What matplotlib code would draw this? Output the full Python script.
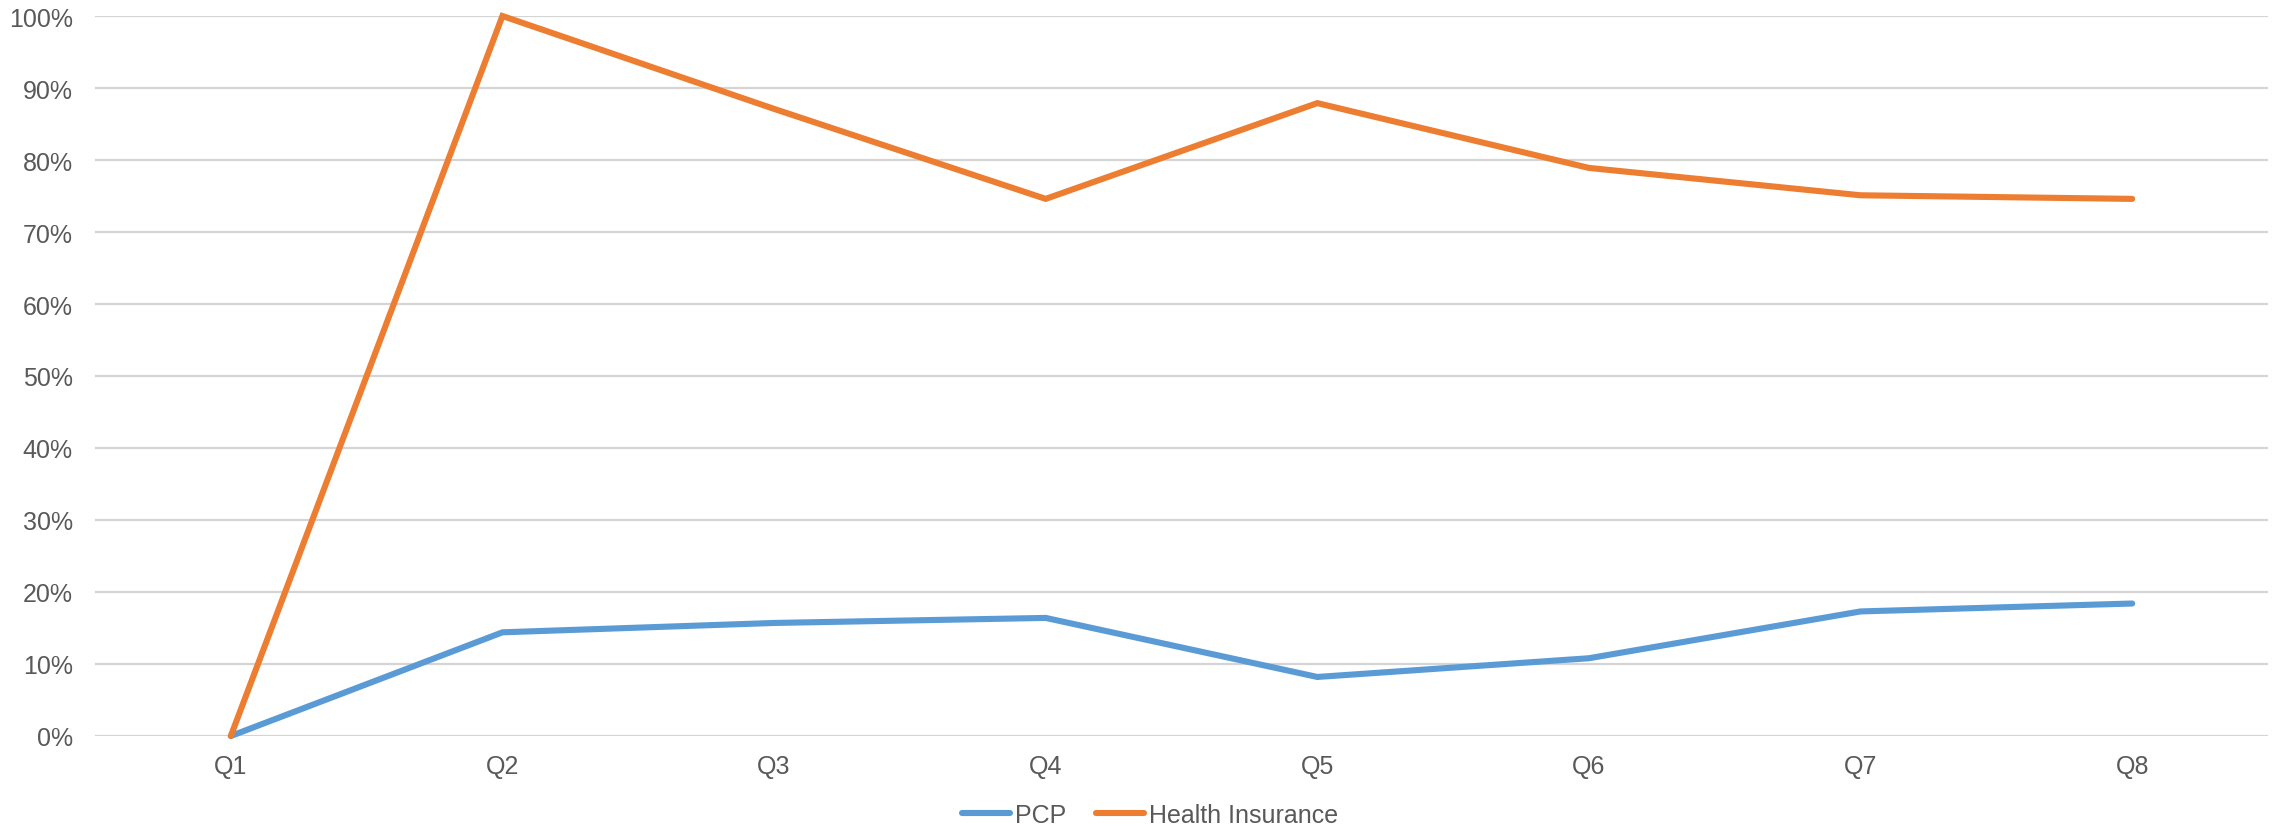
import matplotlib.pyplot as plt
from matplotlib.ticker import PercentFormatter

quarters = ['Q1', 'Q2', 'Q3', 'Q4', 'Q5', 'Q6', 'Q7', 'Q8']
pcp = [0.0, 14.4, 15.7, 16.4, 8.2, 10.8, 17.3, 18.4]
health_insurance = [0.0, 100.0, 87.1, 74.6, 87.9, 78.9, 75.1, 74.6]

plt.rcParams['font.family'] = ['Liberation Sans', 'DejaVu Sans']
text_grey = '#595959'

fig = plt.figure(figsize=(22.8, 8.29), dpi=100)
ax = fig.add_axes([95 / 2280, 1 - 737 / 829, (2268 - 95) / 2280, (737 - 17) / 829])

x = range(len(quarters))
ax.plot(x, pcp, color='#5B9BD5', lw=4.4, solid_capstyle='round',
        solid_joinstyle='miter', label='PCP', zorder=3)
ax.plot(x, health_insurance, color='#ED7D31', lw=4.4, solid_capstyle='round',
        solid_joinstyle='miter', label='Health Insurance', zorder=3)

ax.set_xlim(-0.5, len(quarters) - 0.5)
ax.set_ylim(0, 100)
ax.set_yticks(range(0, 101, 10))
ax.yaxis.set_major_formatter(PercentFormatter(decimals=0))
ax.set_xticks(list(x))
ax.set_xticklabels(quarters)

# light horizontal gridlines only, no spines
ax.grid(axis='y', color='#d4d4d4', lw=1.6, zorder=0)
ax.set_axisbelow(True)
for s in ax.spines.values():
    s.set_visible(False)
ax.tick_params(axis='both', length=0, labelsize=18, colors=text_grey)
ax.tick_params(axis='y', pad=16)
ax.tick_params(axis='x', pad=13)
for line in ax.lines:
    line.set_clip_on(False)

fig.legend(loc='center', bbox_to_anchor=(1150 / 2280, 1 - 816 / 829), ncol=2,
           frameon=False, fontsize=18, handlelength=1.9, handletextpad=0.2,
           columnspacing=1.2, labelcolor=text_grey)

fig.savefig('out.png', dpi=100, facecolor='white')
